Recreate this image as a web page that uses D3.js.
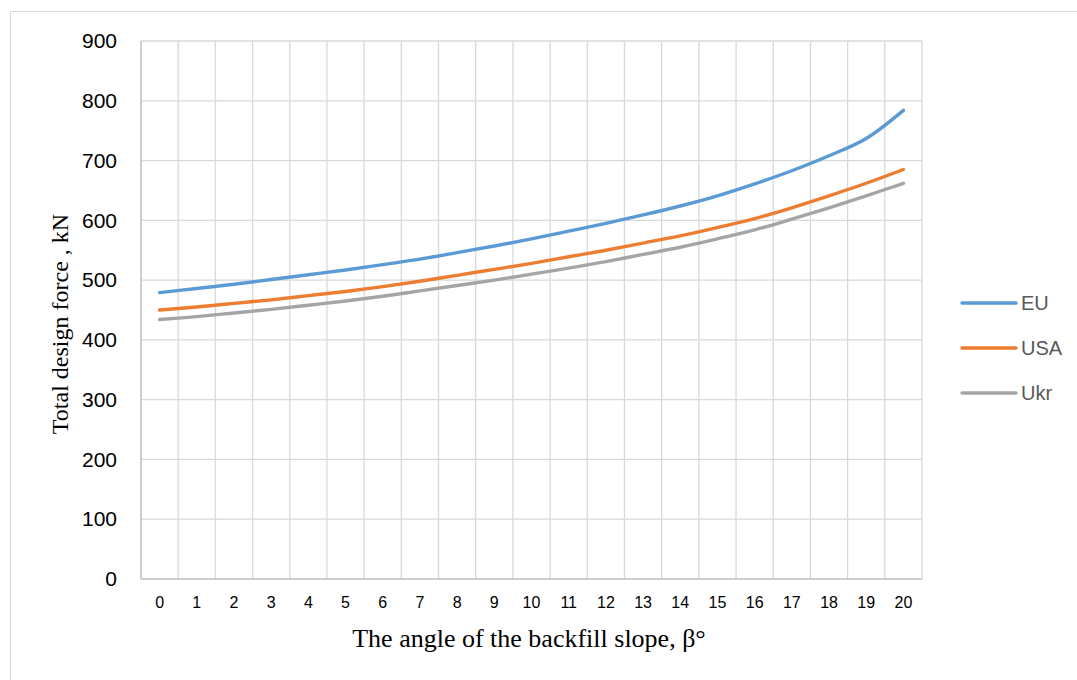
<!DOCTYPE html>
<html>
<head>
<meta charset="utf-8">
<script src="https://cdn.jsdelivr.net/npm/d3@7"></script>
<style>
  html, body { margin: 0; padding: 0; background: #fff; }
  svg { display: block; }
</style>
</head>
<body>
<script>
// angle of backfill slope, degrees
var angles = d3.range(0, 21).map(String);
var yTicks = [0, 100, 200, 300, 400, 500, 600, 700, 800, 900];

// total design force, kN
var eu  = [479, 486, 493, 501, 509, 517, 526, 535, 546, 557, 569, 582, 595, 609, 624, 641, 661, 683, 708, 737, 784];
var usa = [450, 455, 461, 467, 474, 481, 489, 498, 508, 518, 528, 539, 550, 562, 574, 588, 603, 621, 641, 662, 685];
var ukr = [434, 439, 445, 451, 458, 465, 473, 482, 491, 500, 510, 520, 531, 543, 555, 569, 584, 602, 621, 641, 662];

var seriesNames = ["EU", "USA", "Ukr"];
var seriesColors = ["#5B9BD5", "#ED7D31", "#A5A5A5"];

(function() {
  var W = 1077, H = 680;
  var pl = 141, pr = 922, pt = 41, pb = 579;

  var svg = d3.select("body").append("svg")
      .attr("width", W).attr("height", H);

  // outer chart frame
  svg.append("rect")
     .attr("x", 10.5).attr("y", 11.5)
     .attr("width", 1200).attr("height", 800)
     .attr("fill", "none").attr("stroke", "#D9D9D9").attr("stroke-width", 1);

  var x = d3.scaleBand().domain(angles).range([pl, pr]).padding(0);
  var y = d3.scaleLinear().domain([0, 900]).range([pb, pt]);

  // gridlines
  var grid = svg.append("g").attr("stroke", "#D9D9D9").attr("stroke-width", 1.3);
  grid.selectAll("line.h")
      .data(yTicks.slice(1)).enter()
      .append("line").attr("class", "h")
      .attr("x1", pl).attr("x2", pr)
      .attr("y1", function(d) { return y(d); })
      .attr("y2", function(d) { return y(d); });
  grid.selectAll("line.v")
      .data(angles.slice(1).concat(["end"])).enter()
      .append("line").attr("class", "v")
      .attr("x1", function(d) { return d == "end" ? pr : x(d); })
      .attr("x2", function(d) { return d == "end" ? pr : x(d); })
      .attr("y1", pt).attr("y2", pb);

  // axis lines
  svg.append("line").attr("x1", pl).attr("x2", pl).attr("y1", pt).attr("y2", pb)
     .attr("stroke", "#BFBFBF").attr("stroke-width", 1.5);
  svg.append("line").attr("x1", pl).attr("x2", pr).attr("y1", pb).attr("y2", pb)
     .attr("stroke", "#BFBFBF").attr("stroke-width", 1.5);

  // y axis labels
  var yAxis = svg.append("g")
      .attr("transform", "translate(" + pl + ",0)")
      .call(d3.axisLeft(y).tickValues(yTicks).tickSize(0).tickPadding(24));
  yAxis.select(".domain").remove();
  yAxis.selectAll("text")
       .attr("font-family", "'Liberation Sans', Arial, sans-serif")
       .attr("font-size", 21).attr("fill", "#000");

  // x axis labels
  var xAxis = svg.append("g")
      .attr("transform", "translate(0," + pb + ")")
      .call(d3.axisBottom(x).tickSize(0).tickPadding(18));
  xAxis.select(".domain").remove();
  xAxis.selectAll("text")
       .attr("font-family", "'Liberation Sans', Arial, sans-serif")
       .attr("font-size", 16).attr("fill", "#000");

  // series lines
  var line = d3.line()
      .x(function(d, i) { return x(angles[i]) + x.bandwidth() / 2; })
      .y(function(d) { return y(d); })
      .curve(d3.curveCatmullRom.alpha(0.5));

  svg.append("g").selectAll("path")
     .data([eu, usa, ukr]).enter()
     .append("path")
     .attr("d", line)
     .attr("fill", "none")
     .attr("stroke", function(d, i) { return seriesColors[i]; })
     .attr("stroke-width", 3.4)
     .attr("stroke-linecap", "round")
     .attr("stroke-linejoin", "round");

  // legend
  var lg = svg.append("g").selectAll("g")
      .data(seriesNames).enter()
      .append("g")
      .attr("transform", function(d, i) { return "translate(0," + (303 + i * 45) + ")"; });
  lg.append("line")
    .attr("x1", 962).attr("x2", 1016).attr("y1", 0).attr("y2", 0)
    .attr("stroke", function(d, i) { return seriesColors[i]; })
    .attr("stroke-width", 3.4).attr("stroke-linecap", "round");
  lg.append("text")
    .attr("x", 1021).attr("y", 0).attr("dy", "0.36em")
    .attr("font-family", "'Liberation Sans', Arial, sans-serif")
    .attr("font-size", 20).attr("fill", "#595959")
    .text(function(d) { return d; });

  // axis titles
  svg.append("text")
     .attr("transform", "translate(68,324) rotate(-90)")
     .attr("text-anchor", "middle")
     .attr("font-family", "'Liberation Serif', 'Times New Roman', serif")
     .attr("font-size", 24).attr("fill", "#000")
     .text("Total design force , kN");

  svg.append("text")
     .attr("x", 529).attr("y", 647)
     .attr("text-anchor", "middle")
     .attr("font-family", "'Liberation Serif', 'Times New Roman', serif")
     .attr("font-size", 26).attr("fill", "#000")
     .text("The angle of the backfill slope, β°");
})();
</script>
</body>
</html>
